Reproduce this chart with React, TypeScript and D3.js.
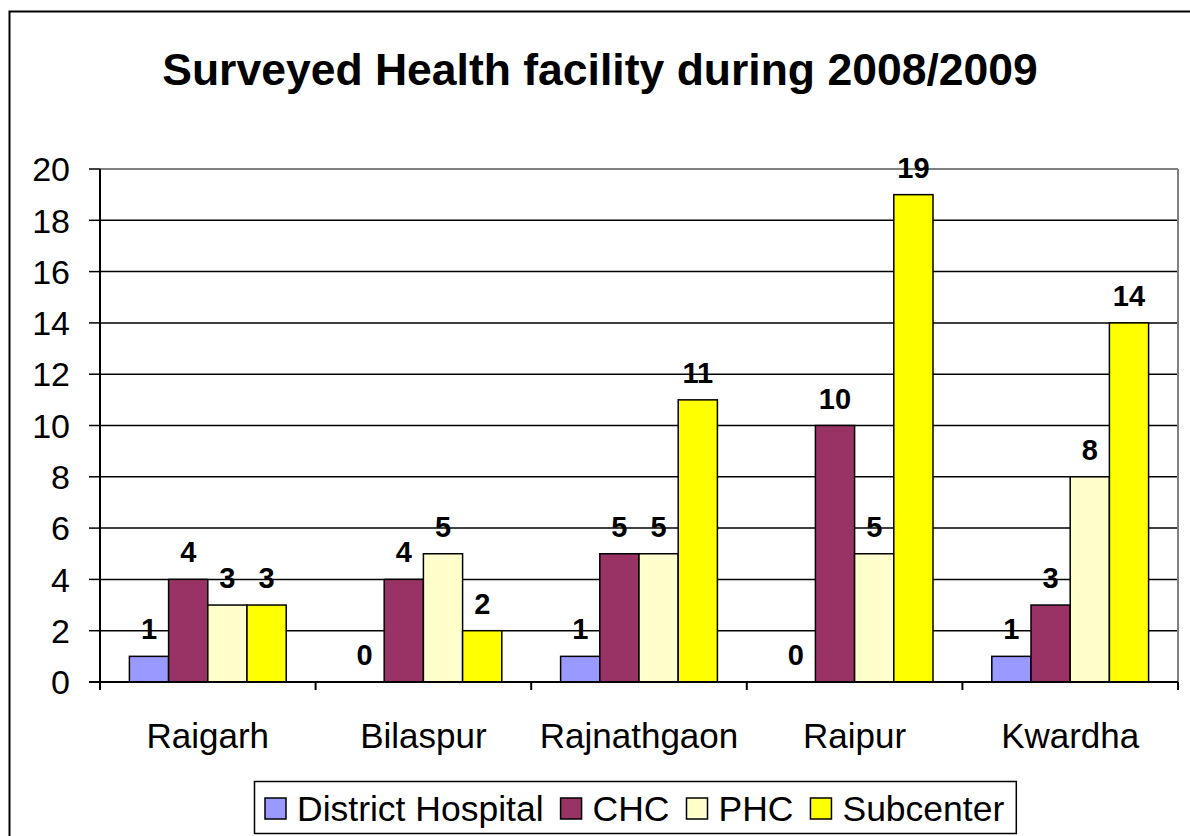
import React, { useEffect, useRef } from "react";
import * as d3 from "d3";

const categories = ["Raigarh", "Bilaspur", "Rajnathgaon", "Raipur", "Kwardha"];
const seriesNames = ["District Hospital", "CHC", "PHC", "Subcenter"];
const seriesColors = ["#9999FF", "#993366", "#FFFFCC", "#FFFF00"];
const districtHospital = [1, 0, 1, 0, 1];
const chc = [4, 4, 5, 10, 3];
const phc = [3, 5, 5, 5, 8];
const subcenter = [3, 2, 11, 19, 14];
const yTicks = [0, 2, 4, 6, 8, 10, 12, 14, 16, 18, 20];
const titleText = "Surveyed Health facility during 2008/2009";

const W = 1190;
const H = 836;

export default function App() {
  const ref = useRef<SVGSVGElement | null>(null);

  useEffect(() => {
    const svg = d3.select(ref.current);
    svg.selectAll("*").remove();
    const font = "'Liberation Sans', Arial, sans-serif";
    const values = [districtHospital, chc, phc, subcenter];

    const left = 100, right = 1178, top = 169, bottom = 682;

    svg.append("rect").attr("x", 0).attr("y", 0).attr("width", W).attr("height", H).attr("fill", "#fff");
    svg.append("rect").attr("x", 9.5).attr("y", 11.5).attr("width", 1300).attr("height", 1000)
      .attr("fill", "none").attr("stroke", "#000").attr("stroke-width", 2);

    svg.append("text").attr("x", 600).attr("y", 85).attr("text-anchor", "middle")
      .attr("font-family", font).attr("font-weight", "bold").attr("font-size", 44.5)
      .text(titleText);

    const x = d3.scaleBand<string>().domain(categories).range([left, right]).paddingInner(0).paddingOuter(0);
    const xs = d3.scaleBand<string>().domain(seriesNames).range([0, x.bandwidth()]).paddingInner(0).paddingOuter(0.75);
    const y = d3.scaleLinear().domain([0, 20]).range([bottom, top]);

    // gridlines
    const g = svg.append("g");
    yTicks.forEach((t) => {
      if (t === 0) return;
      g.append("line").attr("x1", left).attr("x2", right).attr("y1", y(t)).attr("y2", y(t))
        .attr("stroke", t === 20 ? "#808080" : "#000").attr("stroke-width", t === 20 ? 2 : 1.5);
    });
    g.append("line").attr("x1", right).attr("x2", right).attr("y1", top).attr("y2", bottom)
      .attr("stroke", "#808080").attr("stroke-width", 2);

    // bars
    seriesNames.forEach((s, si) => {
      categories.forEach((c, ci) => {
        const v = values[si][ci];
        const bx = (x(c) as number) + (xs(s) as number);
        if (v > 0) {
          svg.append("rect").attr("x", bx).attr("y", y(v)).attr("width", xs.bandwidth())
            .attr("height", y(0) - y(v)).attr("fill", seriesColors[si])
            .attr("stroke", "#000").attr("stroke-width", 1.5);
        }
        svg.append("text").attr("x", bx + xs.bandwidth() / 2).attr("y", y(v) - 17)
          .attr("text-anchor", "middle").attr("font-family", font).attr("font-weight", "bold")
          .attr("font-size", 29).text(String(v));
      });
    });

    // axes
    svg.append("line").attr("x1", left).attr("x2", left).attr("y1", top).attr("y2", bottom + 7)
      .attr("stroke", "#000").attr("stroke-width", 2);
    svg.append("line").attr("x1", left - 11).attr("x2", right).attr("y1", bottom).attr("y2", bottom)
      .attr("stroke", "#000").attr("stroke-width", 2);
    yTicks.forEach((t) => {
      svg.append("line").attr("x1", left - 11).attr("x2", left).attr("y1", y(t)).attr("y2", y(t))
        .attr("stroke", "#000").attr("stroke-width", 1.5);
      svg.append("text").attr("x", 70).attr("y", y(t)).attr("dy", "0.36em").attr("text-anchor", "end")
        .attr("font-family", font).attr("font-size", 34).text(String(t));
    });
    const catEdges = categories.map((c) => x(c) as number).concat([right]);
    catEdges.forEach((e) => {
      svg.append("line").attr("x1", e).attr("x2", e).attr("y1", bottom).attr("y2", bottom + 8)
        .attr("stroke", "#000").attr("stroke-width", 2);
    });
    categories.forEach((c) => {
      svg.append("text").attr("x", (x(c) as number) + x.bandwidth() / 2).attr("y", 748)
        .attr("text-anchor", "middle").attr("font-family", font).attr("font-size", 35).text(c);
    });

    // legend
    const lg = svg.append("g");
    const box = lg.append("rect").attr("x", 254.5).attr("y", 781.5).attr("height", 52)
      .attr("fill", "#fff").attr("stroke", "#000").attr("stroke-width", 1.5);
    let cx = 265;
    seriesNames.forEach((s, si) => {
      lg.append("rect").attr("x", cx).attr("y", 798).attr("width", 21).attr("height", 21)
        .attr("fill", seriesColors[si]).attr("stroke", "#000").attr("stroke-width", 1.5);
      const t = lg.append("text").attr("x", cx + 32).attr("y", 821).attr("font-family", font)
        .attr("font-size", 35.5).text(s);
      const w = (t.node() as SVGTextElement).getComputedTextLength();
      cx = cx + 32 + w + 17;
    });
    box.attr("width", cx - 17 + 12 - 254.5);
  }, []);

  return (
    <svg ref={ref} width={W} height={H}
      style={{ position: "absolute", left: 0, top: 0, display: "block" }} />
  );
}
